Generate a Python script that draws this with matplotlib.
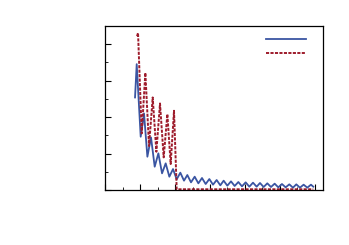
import matplotlib
matplotlib.use("Agg")
import matplotlib.pyplot as plt
from matplotlib.ticker import MultipleLocator

# solid series: start point, then alternating peaks / troughs
solid_x = [0.857, 0.905, 1.019, 1.114, 1.210, 1.314, 1.419, 1.524, 1.629, 1.733,
           1.838, 1.943, 2.048, 2.152, 2.257, 2.352, 2.457, 2.562, 2.667, 2.771,
           2.876, 2.981, 3.086, 3.190, 3.295, 3.390, 3.495, 3.600, 3.705, 3.810,
           3.914, 4.019, 4.124, 4.229, 4.333, 4.429, 4.533, 4.638, 4.743, 4.848,
           4.952, 5.057, 5.162, 5.267, 5.371, 5.467, 5.571, 5.676, 5.781, 5.886,
           5.952]
solid_y = [2.539, 3.452, 1.461, 2.101, 0.913, 1.443, 0.639, 1.005, 0.457, 0.731,
           0.365, 0.575, 0.292, 0.475, 0.256, 0.411, 0.210, 0.365, 0.183, 0.329,
           0.164, 0.301, 0.146, 0.274, 0.128, 0.256, 0.119, 0.237, 0.110, 0.219,
           0.100, 0.210, 0.091, 0.201, 0.091, 0.192, 0.082, 0.183, 0.082, 0.174,
           0.073, 0.164, 0.073, 0.155, 0.064, 0.155, 0.064, 0.146, 0.064, 0.146,
           0.091]

# dashed series
dashed_x = [0.914, 0.943, 1.048, 1.152, 1.257, 1.362, 1.467, 1.571, 1.676, 1.781,
            1.876, 1.971, 2.048, 5.952]
dashed_y = [4.219, 4.310, 1.553, 3.215, 1.205, 2.539, 1.050, 2.374, 0.895, 2.082,
            0.712, 2.174, 0.02, 0.02]

blue = "#3a55a2"
red = "#9e1c2c"

fig = plt.figure(figsize=(3.49, 2.45), dpi=100)
ax = fig.add_axes([0.301, 0.2245, 0.6245, 0.6695])

l1, = ax.plot(solid_x, solid_y, color=blue, lw=1.3)
l2, = ax.plot(dashed_x, dashed_y, color=red, lw=1.4, linestyle=(0, (1.6, 0.7)))

ax.set_xlim(0, 6.23)
ax.set_ylim(0, 4.5)

ax.xaxis.set_major_locator(MultipleLocator(1))
ax.xaxis.set_minor_locator(MultipleLocator(0.5))
ax.yaxis.set_major_locator(MultipleLocator(1))
ax.yaxis.set_minor_locator(MultipleLocator(0.5))
ax.tick_params(which="both", direction="in", labelbottom=False, labelleft=False,
               top=False, right=False)
ax.tick_params(which="major", length=4, width=0.8)
ax.tick_params(which="minor", length=2, width=0.6)

for s in ax.spines.values():
    s.set_linewidth(0.9)

ax.legend([l1, l2], [" ", " "], loc="upper right", frameon=False,
          handlelength=3.6, handletextpad=0.4, labelspacing=0.35,
          borderaxespad=0.4, fontsize=8)

fig.savefig("out.png", dpi=100)
